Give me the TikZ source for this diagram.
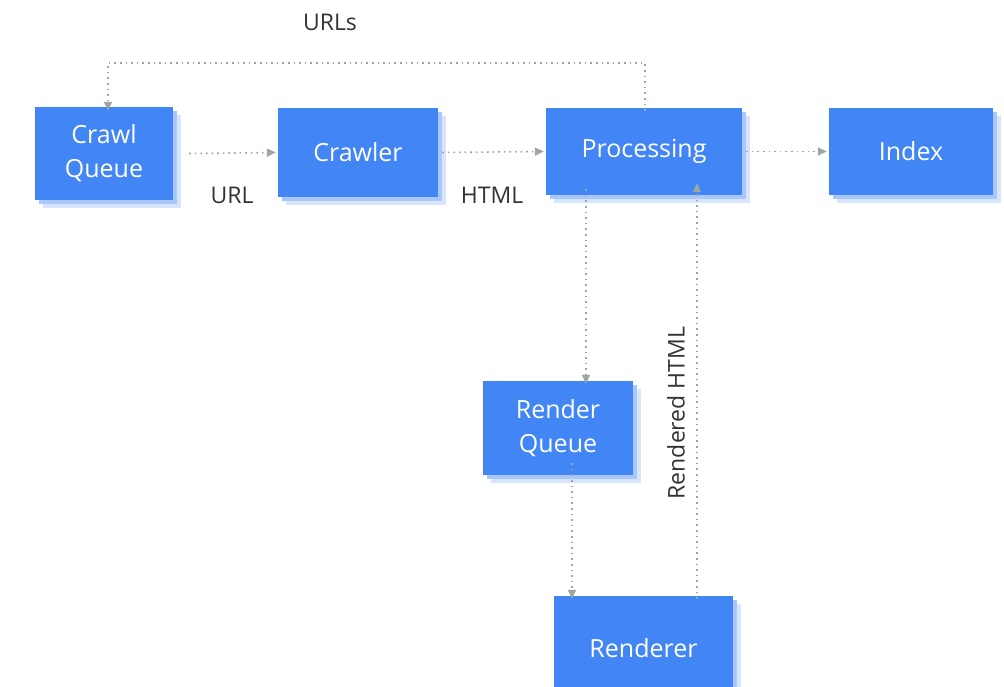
\documentclass[tikz,border=0pt]{standalone}
\usepackage{fontspec}
\setmainfont{Open Sans}
\usetikzlibrary{arrows.meta}
\definecolor{gblue}{HTML}{4285F4}
\definecolor{sh1}{HTML}{A9C7FA}
\definecolor{sh2}{HTML}{D6E4FC}
\definecolor{arr}{HTML}{9AA8A2}
\definecolor{txt}{HTML}{333333}
\begin{document}
\begin{tikzpicture}[x=1pt,y=-1pt,
  box/.style 2 args={},
  lbl/.style={text=txt,font=\fontsize{23}{26}\selectfont},
  flow/.style={draw=arr,line width=1.6pt,dash pattern=on 1.6pt off 4pt,-{Triangle[length=9pt,width=8pt]}}]
\useasboundingbox (0,0) rectangle (1004,687);
\newcommand{\gbox}[6]{% name, x1,y1,x2,y2, text
  \fill[sh2] (#2+8,#3+8) rectangle (#4+8,#5+8);
  \fill[sh1] (#2+4,#3+4) rectangle (#4+4,#5+4);
  \node[fill=gblue,inner sep=0,minimum width=#4-#2,minimum height=#5-#3,text=white,align=center,
    font=\fontsize{25}{34}\selectfont] (#1) at ({(#2+#4)/2},{(#3+#5)/2}) {#6};}
\gbox{cq}{35}{107}{173}{200}{Crawl\\Queue}
\gbox{cr}{278}{108}{438}{197}{Crawler}
\gbox{pr}{546}{108}{742}{195}{Processing}
\gbox{ix}{829}{108}{993}{195}{Index}
\gbox{rq}{483}{381}{633}{475}{Render\\Queue}
\gbox{rd}{554}{596}{733}{700}{Renderer}
\coordinate (a1) at (645,63);
\coordinate (a2) at (108,63);
\draw[flow] ([yshift=-3pt]pr.north -| a1) -- (a1) -- (a2) -- ([yshift=-4pt]cq.north -| a2);
\draw[flow] ([xshift=16pt]cq.east) -- ([xshift=-2pt]cr.west);
\draw[flow] ([xshift=4pt]cr.east) -- ([xshift=-2pt]pr.west);
\draw[flow] ([xshift=4pt]pr.east) -- ([xshift=-2pt]ix.west);
\draw[flow] ([yshift=6pt]pr.south -| 586,0) -- ([yshift=-3pt]rq.north -| 586,0);
\draw[flow] ([yshift=12pt]rq.south -| 572,0) -- ([yshift=-3pt]rd.north -| 572,0);
\draw[flow] ([yshift=-3pt]rd.north -| 697,0) -- ([yshift=12pt]pr.south -| 697,0);
\node[lbl] (l1) at (330,22) {URLs};
\node[lbl] (l2) at (232,195) {URL};
\node[lbl] (l3) at (492,195) {HTML};
\node[lbl,rotate=90] (l4) at (676,413) {Rendered HTML};
\end{tikzpicture}
\end{document}
